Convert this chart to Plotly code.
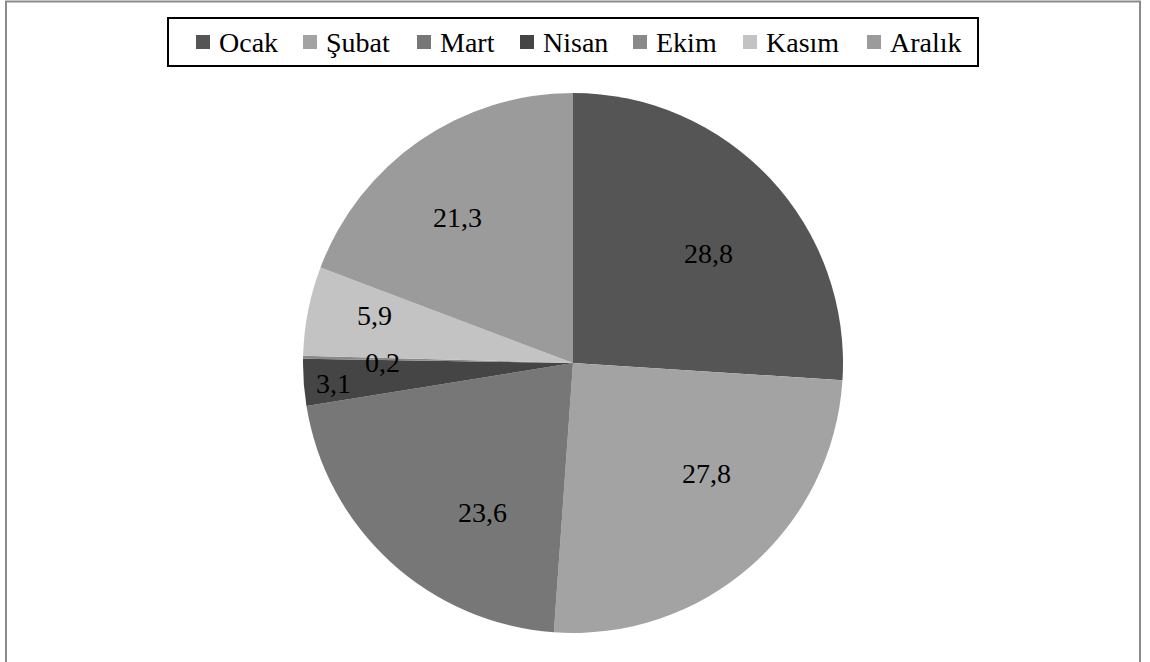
import math
import plotly.graph_objects as go

# ---- data ----
months = ["Ocak", "Şubat", "Mart", "Nisan", "Ekim", "Kasım", "Aralık"]
values = [28.8, 27.8, 23.6, 3.1, 0.2, 5.9, 21.3]
colors = ["#555555", "#a3a3a3", "#777777", "#454545", "#898989", "#c3c3c3", "#9b9b9b"]

# ---- layout settings (pixels in the 1150x662 canvas) ----
W, H = 1150, 662
cx, cy, r = 573, 363, 270
FONT = "Liberation Serif, Times New Roman, Tinos, serif"
FS = 28
# label placement (radius fraction and angular nudge from slice mid-angle, deg)
label_rfrac = [0.646, 0.644, 0.645, 0.889, 0.707, 0.757, 0.687]
label_nudge = [4.3, -9.2, -11.3, -0.7, -1.2, 2.2, -3.7]
# legend layout
leg_box = (168, 18, 978, 66)
leg_sq_x = [196, 303, 417, 520, 633, 743, 867]
leg_sq_y, leg_sq = 35, 14
leg_text_dx = 21


def fmt(v):
    return f"{v:.1f}".replace(".", ",")


fig = go.Figure(go.Pie(
    labels=months,
    values=values,
    sort=False,
    direction="clockwise",
    rotation=0,
    marker=dict(colors=colors, line=dict(width=0)),
    textinfo="none",
    domain=dict(x=[(cx - r) / W, (cx + r) / W], y=[(H - cy - r) / H, (H - cy + r) / H]),
    hoverinfo="label+value",
    showlegend=False,
))

annotations = []
shapes = []

# data labels derived from the values (cumulative angles, clockwise from 12 o'clock)
total = sum(values)
cum = 0.0
for v, rf, nd in zip(values, label_rfrac, label_nudge):
    ang = math.radians(360.0 * (cum + v / 2) / total + nd)
    px = cx + rf * r * math.sin(ang)
    py = cy - rf * r * math.cos(ang)
    annotations.append(dict(
        x=px / W, y=1 - py / H, xref="paper", yref="paper",
        xanchor="center", yanchor="middle",
        text=fmt(v), showarrow=False,
        font=dict(family=FONT, size=FS, color="black"),
    ))
    cum += v

# legend (box, colour squares, month names)
x0, y0, x1, y1 = leg_box
shapes.append(dict(type="rect", xref="paper", yref="paper",
                   x0=x0 / W, x1=x1 / W, y0=1 - y1 / H, y1=1 - y0 / H,
                   line=dict(color="black", width=2), fillcolor="white", layer="above"))
for m, c, sx in zip(months, colors, leg_sq_x):
    shapes.append(dict(type="rect", xref="paper", yref="paper",
                       x0=sx / W, x1=(sx + leg_sq) / W,
                       y0=1 - (leg_sq_y + leg_sq) / H, y1=1 - leg_sq_y / H,
                       line=dict(width=0), fillcolor=c, layer="above"))
    annotations.append(dict(
        x=(sx + leg_text_dx) / W, y=1 - (leg_sq_y + leg_sq / 2) / H,
        xref="paper", yref="paper", xanchor="left", yanchor="middle",
        text=m, showarrow=False,
        font=dict(family=FONT, size=FS, color="black"),
    ))

# outer chart frame
shapes.append(dict(type="rect", xref="paper", yref="paper",
                   x0=6 / W, x1=1140 / W, y0=-0.01, y1=(H - 1.5) / H,
                   line=dict(color="#8a8a8a", width=2)))

fig.update_layout(
    width=W, height=H,
    margin=dict(l=0, r=0, t=0, b=0),
    separators=",.",
    paper_bgcolor="white",
    font=dict(family=FONT),
    showlegend=False,
    annotations=annotations,
    shapes=shapes,
)

fig.write_html("out.html", config={"displayModeBar": False},
               post_script="document.body.style.margin='0';")
